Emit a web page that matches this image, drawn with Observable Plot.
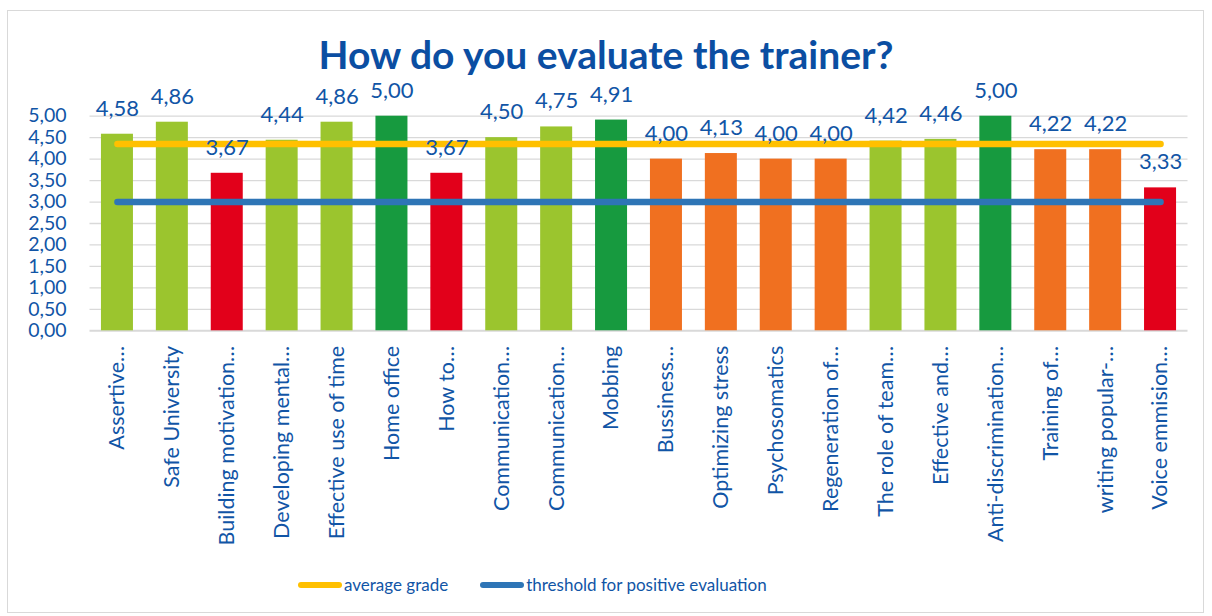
<!DOCTYPE html>
<html><head><meta charset="utf-8">
<script src="https://cdn.jsdelivr.net/npm/d3@7"></script>
<script src="https://cdn.jsdelivr.net/npm/@observablehq/plot@0.6"></script>
<style>
body{margin:0;width:1212px;height:616px;position:relative;overflow:hidden;background:#fff;font-family:Lato,sans-serif;}
#frame{position:absolute;left:7px;top:10px;width:1197px;height:603px;border:1px solid #d9d9d9;box-sizing:border-box;}
#title{position:absolute;left:0;width:1212px;top:38px;text-align:center;font-weight:bold;font-size:39px;line-height:32px;color:#0b4ea2;white-space:nowrap;}
#chart{position:absolute;left:0;top:0;}
#legend{position:absolute;left:298px;top:574px;display:flex;align-items:center;font-size:17px;line-height:22px;color:#1155a6;}
.sw{display:inline-block;width:44px;height:6px;border-radius:3px;margin-right:2px;}
.item{display:flex;align-items:center;}
</style>
</head><body>
<div id="frame"></div>
<div id="chart"></div>
<div id="title">How do you evaluate the trainer?</div>
<div id="legend">
  <div class="item" style="margin-right:32px"><span class="sw" style="background:#FFC000"></span><span>average grade</span></div>
  <div class="item"><span class="sw" style="background:#2E75B6"></span><span>threshold for positive evaluation</span></div>
</div>
<script>
const categories = ["Assertive…","Safe University","Building motivation…","Developing mental…","Effective use of time","Home office","How to…","Communication…","Communication…","Mobbing","Bussiness…","Optimizing stress","Psychosomatics","Regeneration of…","The role of team…","Effective and…","Anti-discrimination…","Training of…","writing popular-…","Voice emmision…"];
const values = [4.58,4.86,3.67,4.44,4.86,5.00,3.67,4.50,4.75,4.91,4.00,4.13,4.00,4.00,4.42,4.46,5.00,4.22,4.22,3.33];
const groups = ["good","good","weak","good","good","top","weak","good","good","top","fair","fair","fair","fair","good","good","top","fair","fair","weak"];
const groupNames = ["good","top","fair","weak"];
const groupColors = ["#9BC52E","#179A3F","#F07020","#E2001A"];
const averageGrade = 4.35;
const threshold = 3.00;
const yTicks = [0,0.5,1,1.5,2,2.5,3,3.5,4,4.5,5];

const rows = categories.map((c,i)=>({i, label:c, value:values[i], group:groups[i]}));
const fmt = v => v.toFixed(2).replace(".", ",");
const blue = "#1155a6";

const chart = Plot.plot({
  width: 1212,
  height: 560,
  marginTop: 115.7,
  marginBottom: 560-330.3,
  marginLeft: 89.5,
  marginRight: 24.5,
  style: {color: blue, fontFamily: "Lato, sans-serif", background: "transparent"},
  x: {type: "band", domain: d3.range(categories.length), paddingInner: 0.417, paddingOuter: 0.2085, round: false, label: null},
  y: {domain: [0,5], label: null},
  color: {domain: groupNames, range: groupColors},
  marks: [
    Plot.ruleY(yTicks.filter(d=>d>0), {stroke:"#d9d9d9", strokeWidth:1.3}),
    Plot.ruleY([0], {stroke:"#d9d9d9", strokeWidth:2}),
    Plot.axisY({ticks: yTicks, tickSize: 0, tickPadding: 23.5, tickFormat: fmt, fontSize: 19.5, label: null}),
    Plot.axisX({tickRotate: -90, tickSize: 0, tickPadding: 15, tickFormat: i => categories[i], fontSize: 21.5, label: null}),
    Plot.barY(rows, {x:"i", y:"value", fill:"group"}),
    Plot.lineY(rows, {x:"i", y:() => threshold, stroke:"#2E75B6", strokeWidth:6.5, strokeLinecap:"round"}),
    Plot.lineY(rows, {x:"i", y:() => averageGrade, stroke:"#FFC000", strokeWidth:6.5, strokeLinecap:"round"}),
    Plot.text(rows, {x:"i", y:"value", text: d => fmt(d.value), dy:-25.5, fontSize:22, fill: blue})
  ]
});
document.getElementById("chart").appendChild(chart);
</script>
</body></html>
